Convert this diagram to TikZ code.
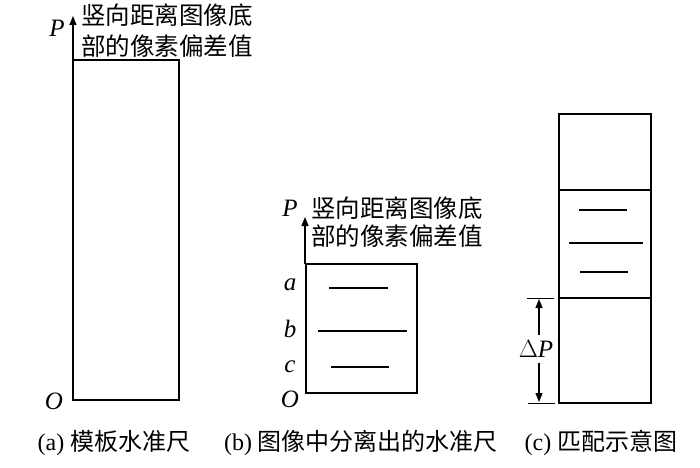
\documentclass[tikz,border=0pt]{standalone}
\usepackage{fontspec}
\setmainfont{Liberation Serif}
\newfontfamily\cjk{Noto Sans CJK SC}
\usetikzlibrary{arrows.meta}
\begin{document}
\begin{tikzpicture}[x=1pt,y=-1pt,
  box/.style={draw,line width=1.4pt,inner sep=0pt},
  tick/.style={line width=1.2pt},
  axis/.style={line width=1.4pt,-{Triangle[length=9pt,width=7pt]}},
  lbl/.style={font=\fontsize{25}{27}\selectfont\itshape,inner sep=0pt},
  note/.style={font=\fontsize{24.5}{31}\selectfont\cjk,align=left,inner sep=0pt,anchor=west},
  captext/.style={font=\fontsize{24}{26}\selectfont,inner sep=0pt}]
\useasboundingbox (0,0) rectangle (700,467);
% panel (a)
\draw[box] (73,60) rectangle (179,400);
\coordinate (aBL) at (73,400);
\coordinate (aTL) at (73,60);
\coordinate (aTip) at (73,16);
\draw[axis] (aTL) -- (aTip);
\node[lbl] (aP) at (57,28) {P};
\node[lbl] (aO) at (54,401) {O};
\node[note] (aT) at (81,31) {竖向距离图像底\\部的像素偏差值};
% panel (b)
\draw[box] (306,264) rectangle (417,393);
\coordinate (bTL) at (305,264);
\coordinate (bTip) at (305,217);
\draw[axis] (bTL) -- (bTip);
\node[lbl] (bP) at (290,208) {P};
\node[note,font=\fontsize{24.5}{28}\selectfont\cjk] (bT) at (311,222) {竖向距离图像底\\部的像素偏差值};
\node[lbl] (ba) at (290,285) {a};
\node[lbl] (bb) at (290,329) {b};
\node[lbl] (bc) at (290,367) {c};
\node[lbl] (bO) at (290,399) {O};
\coordinate (la1) at (329,288); \coordinate (la2) at (388,288);
\coordinate (lb1) at (318,331); \coordinate (lb2) at (407,331);
\coordinate (lc1) at (331,367); \coordinate (lc2) at (389,367);
\draw[tick] (la1) -- (la2);
\draw[tick] (lb1) -- (lb2);
\draw[tick] (lc1) -- (lc2);
% panel (c)
\draw[box] (559,114) rectangle (651,403);
\draw[tick] (559,190) -- (651,190);
\draw[tick] (559,298) -- (651,298);
\coordinate (m11) at (579,210); \coordinate (m12) at (627,210);
\coordinate (m21) at (569,243); \coordinate (m22) at (643,243);
\coordinate (m31) at (580,272); \coordinate (m32) at (628,272);
\draw[tick] (m11) -- (m12);
\draw[tick] (m21) -- (m22);
\draw[tick] (m31) -- (m32);
\coordinate (e1a) at (527,298); \coordinate (e1b) at (554,298);
\coordinate (e2a) at (528,403); \coordinate (e2b) at (555,403);
\draw[line width=1pt] (e1a) -- (e1b);
\draw[line width=1pt] (e2a) -- (e2b);
\node[font=\fontsize{25}{27}\selectfont,inner sep=0pt] (dP) at (536,349) {$\Delta$\textit{P}};
\draw[line width=1.2pt,-{Triangle[length=9pt,width=7pt]}] (539,335) -- (539,299);
\draw[line width=1.2pt,-{Triangle[length=9pt,width=7pt]}] (539,363) -- (539,402);
% captions
\node[captext] (ca) at (114,443) {(a) {\cjk 模板水准尺}};
\node[captext] (cb) at (361,443) {(b) {\cjk 图像中分离出的水准尺}};
\node[captext] (cc) at (601,443) {(c) {\cjk 匹配示意图}};
\end{tikzpicture}
\end{document}
